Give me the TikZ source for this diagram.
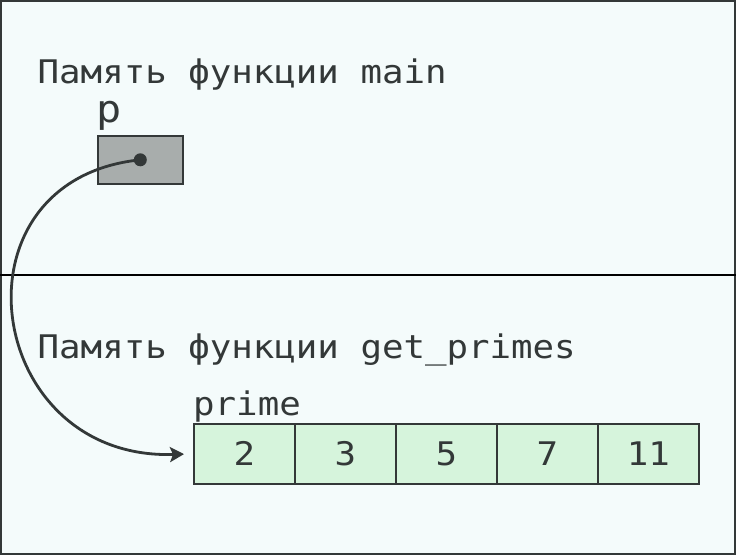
\documentclass[tikz,border=0pt]{standalone}
\usepackage{fontspec}
\usetikzlibrary{arrows.meta}
\newfontfamily\memfont[FakeStretch=1.1]{DejaVu Sans Mono}
\definecolor{ink}{HTML}{333838}
\definecolor{bgc}{HTML}{F4FBFB}
\definecolor{ptrfill}{HTML}{A8ADAC}
\definecolor{cellfill}{HTML}{D6F4DC}

\begin{document}
\begin{tikzpicture}[x=1pt,y=-1pt,>={Stealth[length=14pt,width=15pt,inset=3pt]},
  every node/.style={text=ink,font=\memfont\fontsize{32.5}{39}\selectfont,inner sep=0pt},
  cell/.style={draw=ink,line width=1.6pt,fill=cellfill,minimum width=101pt,minimum height=60pt,anchor=north west}]
  \useasboundingbox (0,0) rectangle (736,555);
  \fill[bgc] (0,0) rectangle (736,555);
  \draw[ink,line width=2pt] (1,1) rectangle (735,554);
  \draw[black,line width=1.3pt] (0,275) -- (736,275);
  % main
  \node[anchor=base west] (mainttl) at (37.5,83) {Память функции main};
  \node[draw=ink,line width=1.6pt,fill=ptrfill,minimum width=85pt,minimum height=48pt,anchor=north west] (pbox) at (97,135) {};
  \node[anchor=base west,font=\memfont\fontsize{38}{44}\selectfont] (plbl) at (96,122) {p};
  % get_primes
  \node[anchor=base west] (gpttl) at (37.5,358) {Память функции get\_primes};
  \foreach \v [count=\i] in {2,3,5,7,11}
    \node[cell] (cell\i) at ({193+101*(\i-1)},423) {\v};
  \node[anchor=base west] (primelbl) at (193,415) {prime};
  % pointer
  \draw[->,ink,line width=2.8pt,shorten >=9pt] (pbox.center) .. controls +(-195,20) and +(-210,7) .. (cell1.west);
  \node[circle,fill=ink,minimum size=13pt] (pdot) at (pbox.center) {};
\end{tikzpicture}
\end{document}
